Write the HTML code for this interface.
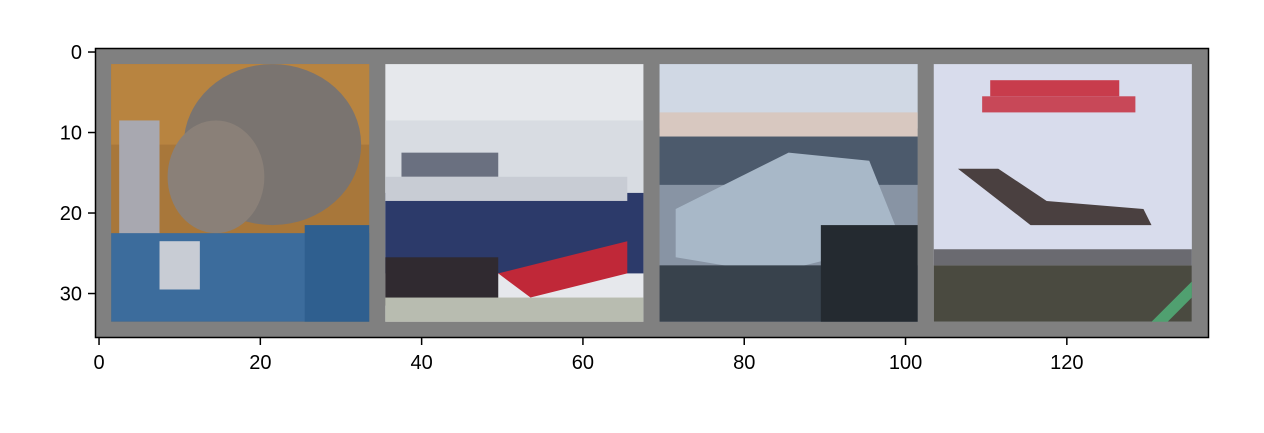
<!DOCTYPE html>
<html><head><meta charset="utf-8"><style>
body{margin:0;background:#fff;}
svg text{font-family:"Liberation Sans","DejaVu Sans",sans-serif;font-size:20px;fill:#000;}
</style></head><body>
<svg width="1264" height="428">
<g id="img" transform="translate(95,48) scale(8.065,8.05)">
<rect x="0" y="0" width="138" height="36" fill="#808080"/>
<g>
<rect x="2" y="2" width="32" height="32" fill="#a8773a"/>
<rect x="2" y="2" width="32" height="10" fill="#b88440"/>
<ellipse cx="22" cy="12" rx="11" ry="10" fill="#7a7470"/>
<ellipse cx="15" cy="16" rx="6" ry="7" fill="#8a8078"/>
<rect x="3" y="9" width="5" height="18" fill="#a8a8b0"/>
<rect x="2" y="23" width="32" height="11" fill="#3c6c9c"/>
<rect x="8" y="24" width="5" height="6" fill="#c8ccd4"/>
<rect x="26" y="22" width="8" height="12" fill="#2f5f8f"/>
</g>
<g>
<rect x="36" y="2" width="32" height="32" fill="#e6e8ec"/>
<rect x="36" y="9" width="32" height="9" fill="#d8dce2"/>
<rect x="38" y="13" width="12" height="3" fill="#6a7080"/>
<rect x="36" y="18" width="32" height="10" fill="#2c3a6a"/>
<rect x="36" y="16" width="30" height="3" fill="#c8ccd4"/>
<polygon points="50,28 66,24 66,28 54,31" fill="#c02838"/>
<rect x="36" y="26" width="14" height="6" fill="#302a30"/>
<rect x="36" y="31" width="32" height="3" fill="#b8bcb0"/>
</g>
<g>
<rect x="70" y="2" width="32" height="32" fill="#8894a4"/>
<rect x="70" y="2" width="32" height="8" fill="#d0d8e4"/>
<rect x="70" y="8" width="32" height="3" fill="#d8c8c0"/>
<rect x="70" y="11" width="32" height="6" fill="#4c5a6c"/>
<polygon points="72,20 86,13 96,14 100,24 84,28 72,26" fill="#a8b8c8"/>
<rect x="70" y="27" width="32" height="7" fill="#38424c"/>
<rect x="90" y="22" width="12" height="12" fill="#242a30"/>
</g>
<g>
<rect x="104" y="2" width="32" height="32" fill="#d8dcec"/>
<rect x="111" y="4" width="16" height="2" fill="#c83c4c"/>
<rect x="110" y="6" width="19" height="2" fill="#c84858"/>
<polygon points="107,15 112,15 118,19 130,20 131,22 116,22" fill="#4a4040"/>
<rect x="104" y="25" width="32" height="2" fill="#6a6a70"/>
<rect x="104" y="27" width="32" height="7" fill="#4a4a40"/>
<polygon points="131,34 136,29 136,31 133,34" fill="#50a070"/>
</g>
</g>
<rect x="95.5" y="48.5" width="1113" height="289" fill="none" stroke="#000" stroke-width="1.5"/>
<g id="xt"></g>
<g id="yt"></g>
</svg>
<script>
const xTicks=[0,20,40,60,80,100,120];
const yTicks=[0,10,20,30];
const ns="http://www.w3.org/2000/svg";
const fx=v=>95+(v+0.5)*8.065, fy=v=>48+(v+0.5)*8.05;
const xt=document.getElementById('xt'), yt=document.getElementById('yt');
xTicks.forEach(v=>{
 const l=document.createElementNS(ns,'line');
 
 
 l.setAttribute('x1',fx(v));l.setAttribute('x2',fx(v));l.setAttribute('y1',338);l.setAttribute('y2',345);l.setAttribute('stroke','#000');l.setAttribute('stroke-width','1.5');
 xt.appendChild(l);
 const t=document.createElementNS(ns,'text');
 
 
 t.setAttribute('x',fx(v));t.setAttribute('y',369);t.setAttribute('text-anchor','middle');t.textContent=v;
 xt.appendChild(t);
});
yTicks.forEach(v=>{
 const l=document.createElementNS(ns,'line');
 
 
 l.setAttribute('x1',88);l.setAttribute('x2',95);l.setAttribute('y1',fy(v));l.setAttribute('y2',fy(v));l.setAttribute('stroke','#000');l.setAttribute('stroke-width','1.5');
 yt.appendChild(l);
 const t=document.createElementNS(ns,'text');
 
 
 t.setAttribute('x',82);t.setAttribute('y',fy(v)+7);t.setAttribute('text-anchor','end');t.textContent=v;
 yt.appendChild(t);
});
</script>
</body></html>
